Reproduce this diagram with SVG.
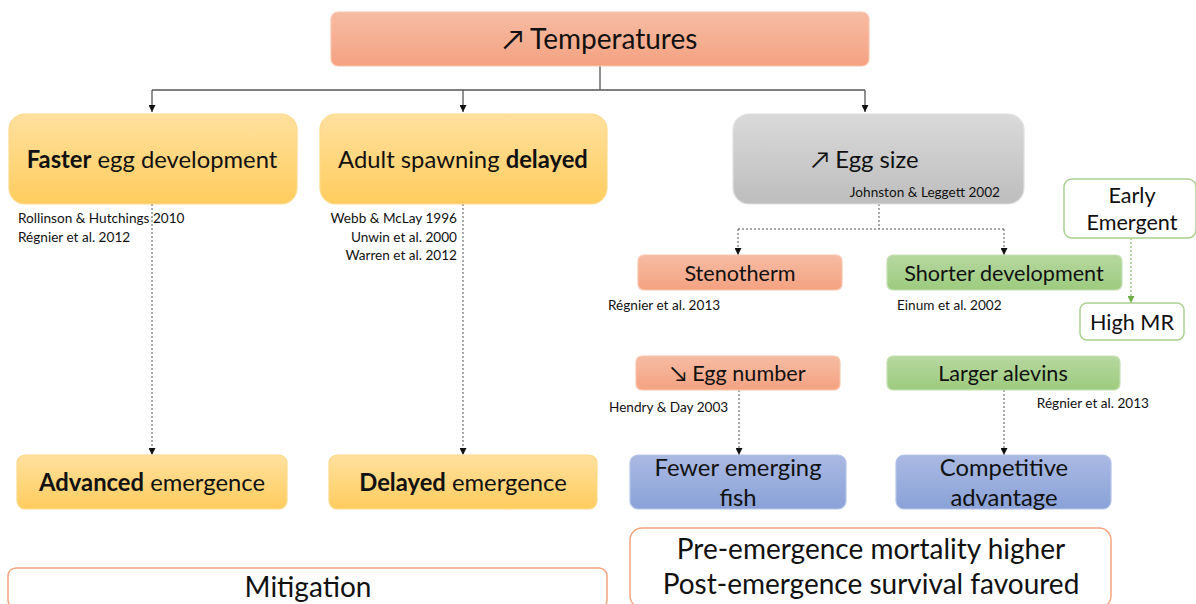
<svg xmlns="http://www.w3.org/2000/svg" width="1196" height="604" viewBox="0 0 1196 604">
<defs>
<linearGradient id="gOr" x1="0" y1="0" x2="0" y2="1"><stop offset="0" stop-color="#f6bca4"/><stop offset="1" stop-color="#f4a281"/></linearGradient>
<linearGradient id="gYe" x1="0" y1="0" x2="0" y2="1"><stop offset="0" stop-color="#ffe09e"/><stop offset="1" stop-color="#ffcd5e"/></linearGradient>
<linearGradient id="gGr" x1="0" y1="0" x2="0" y2="1"><stop offset="0" stop-color="#dadada"/><stop offset="1" stop-color="#bdbdbd"/></linearGradient>
<linearGradient id="gGn" x1="0" y1="0" x2="0" y2="1"><stop offset="0" stop-color="#b6d8a0"/><stop offset="1" stop-color="#9dcb7e"/></linearGradient>
<linearGradient id="gBl" x1="0" y1="0" x2="0" y2="1"><stop offset="0" stop-color="#aab9e2"/><stop offset="1" stop-color="#8aa2d8"/></linearGradient>
<marker id="ar" viewBox="0 0 10 10" refX="10" refY="5" markerWidth="7" markerHeight="7" orient="auto" markerUnits="userSpaceOnUse"><path d="M0,0 L10,5 L0,10 z" fill="#111"/></marker>
<marker id="arg" viewBox="0 0 10 10" refX="10" refY="5" markerWidth="7" markerHeight="7" orient="auto" markerUnits="userSpaceOnUse"><path d="M0,0 L10,5 L0,10 z" fill="#70ad47"/></marker>
<style>
text{font-family:Lato,"Open Sans","Liberation Sans",sans-serif;fill:#111}
.c{text-anchor:middle}
.cit{font-size:13.6px}
.or{fill:url(#gOr);stroke:#f8c5ac;stroke-width:1.2}
.ye{fill:url(#gYe);stroke:#ffd98a;stroke-width:1.2}
.gr{fill:url(#gGr);stroke:#e0e0e0;stroke-width:1.2}
.gn{fill:url(#gGn);stroke:#c5e0b4;stroke-width:1.2}
.bl{fill:url(#gBl);stroke:#b4c4e8;stroke-width:1.2}
.wo{fill:#fff;stroke:#f4a37e;stroke-width:1.5}
.wg{fill:#fff;stroke:#a9d18e;stroke-width:1.5}
.sol{fill:none;stroke:#555;stroke-width:1.3}
.dot{fill:none;stroke:#555;stroke-width:1;stroke-dasharray:2,2}
.dotg{fill:none;stroke:#70ad47;stroke-width:1;stroke-dasharray:2,2}
</style>
</defs>

<g id="connectors">
<path class="sol" d="M600,66 V90"/>
<path class="sol" d="M152,90 H865"/>
<path class="sol" d="M152,90 V112" marker-end="url(#ar)"/>
<path class="sol" d="M463,90 V112" marker-end="url(#ar)"/>
<path class="sol" d="M865,90 V112" marker-end="url(#ar)"/>
<path class="dot" d="M152,204 V455" marker-end="url(#ar)"/>
<path class="dot" d="M463,204 V455" marker-end="url(#ar)"/>
<path class="dot" d="M879,204 V229 M738,229 H1004"/>
<path class="dot" d="M738,229 V255" marker-end="url(#ar)"/>
<path class="dot" d="M1004,229 V255" marker-end="url(#ar)"/>
<path class="dotg" d="M1131,238 V303" marker-end="url(#arg)"/>
<path class="dot" d="M739,390 V455" marker-end="url(#ar)"/>
<path class="dot" d="M1004,390 V455" marker-end="url(#ar)"/>
</g>

<g id="temperatures">
<rect class="or" x="331" y="12" width="538" height="54" rx="7"/>
<text class="c" x="600" y="49" font-size="28">↗ Temperatures</text>
</g>

<g id="faster">
<rect class="ye" x="9" y="114" width="288" height="90" rx="16"/>
<text class="c" x="152" y="168" font-size="23.8"><tspan font-weight="bold">Faster</tspan> egg development</text>
<text class="cit" x="18" y="223">Rollinson &amp; Hutchings 2010</text>
<text class="cit" x="18" y="242">Régnier et al. 2012</text>
</g>

<g id="spawning">
<rect class="ye" x="320" y="114" width="287" height="90" rx="16"/>
<text class="c" x="463" y="168" font-size="23.8">Adult spawning <tspan font-weight="bold">delayed</tspan></text>
<text class="cit" x="457" y="223" text-anchor="end">Webb &amp; McLay 1996</text>
<text class="cit" x="457" y="242" text-anchor="end">Unwin et al. 2000</text>
<text class="cit" x="457" y="260" text-anchor="end">Warren et al. 2012</text>
</g>

<g id="eggsize">
<rect class="gr" x="733" y="114" width="291" height="90" rx="16"/>
<text class="c" x="865" y="168" font-size="23.8">↗ Egg size</text>
<text class="cit" x="1000" y="197" text-anchor="end">Johnston &amp; Leggett 2002</text>
</g>

<g id="early">
<rect class="wg" x="1064" y="179" width="132" height="59" rx="8"/>
<text class="c" x="1132" y="203" font-size="21.6">Early</text>
<text class="c" x="1132" y="230" font-size="21.6">Emergent</text>
</g>

<g id="highmr">
<rect class="wg" x="1080" y="303" width="104" height="37" rx="7"/>
<text class="c" x="1132" y="330" font-size="21.6">High MR</text>
</g>

<g id="stenotherm">
<rect class="or" x="638" y="255" width="204" height="35" rx="6"/>
<text class="c" x="740" y="281" font-size="21.6">Stenotherm</text>
<text class="cit" x="608" y="310">Régnier et al. 2013</text>
</g>

<g id="shorter">
<rect class="gn" x="887" y="255" width="235" height="35" rx="6"/>
<text class="c" x="1004" y="281" font-size="21.6">Shorter development</text>
<text class="cit" x="897" y="310">Einum et al. 2002</text>
</g>

<g id="eggnumber">
<rect class="or" x="636" y="356" width="204" height="34" rx="6"/>
<text class="c" x="738" y="381" font-size="21.6">↘ Egg number</text>
<text class="cit" x="609" y="412">Hendry &amp; Day 2003</text>
</g>

<g id="alevins">
<rect class="gn" x="887" y="356" width="233" height="34" rx="6"/>
<text class="c" x="1003" y="381" font-size="21.6">Larger alevins</text>
<text class="cit" x="1149" y="408" text-anchor="end">Régnier et al. 2013</text>
</g>

<g id="advanced">
<rect class="ye" x="17" y="455" width="270" height="54" rx="8"/>
<text class="c" x="152" y="491" font-size="23.8"><tspan font-weight="bold">Advanced</tspan> emergence</text>
</g>

<g id="delayed">
<rect class="ye" x="329" y="455" width="268" height="54" rx="8"/>
<text class="c" x="463" y="491" font-size="23.8"><tspan font-weight="bold">Delayed</tspan> emergence</text>
</g>

<g id="fewer">
<rect class="bl" x="630" y="455" width="216" height="54" rx="8"/>
<text class="c" x="738" y="476" font-size="23.8">Fewer emerging</text>
<text class="c" x="738" y="506" font-size="23.8">fish</text>
</g>

<g id="competitive">
<rect class="bl" x="896" y="455" width="215" height="54" rx="8"/>
<text class="c" x="1004" y="476" font-size="23.8">Competitive</text>
<text class="c" x="1004" y="506" font-size="23.8">advantage</text>
</g>

<g id="mitigation">
<rect class="wo" x="8" y="568" width="599" height="40" rx="8"/>
<text class="c" x="308" y="597" font-size="28">Mitigation</text>
</g>

<g id="preemergence">
<rect class="wo" x="630" y="528" width="481" height="80" rx="12"/>
<text class="c" x="871" y="559" font-size="28">Pre-emergence mortality higher</text>
<text class="c" x="871" y="594" font-size="28">Post-emergence survival favoured</text>
</g>
</svg>
